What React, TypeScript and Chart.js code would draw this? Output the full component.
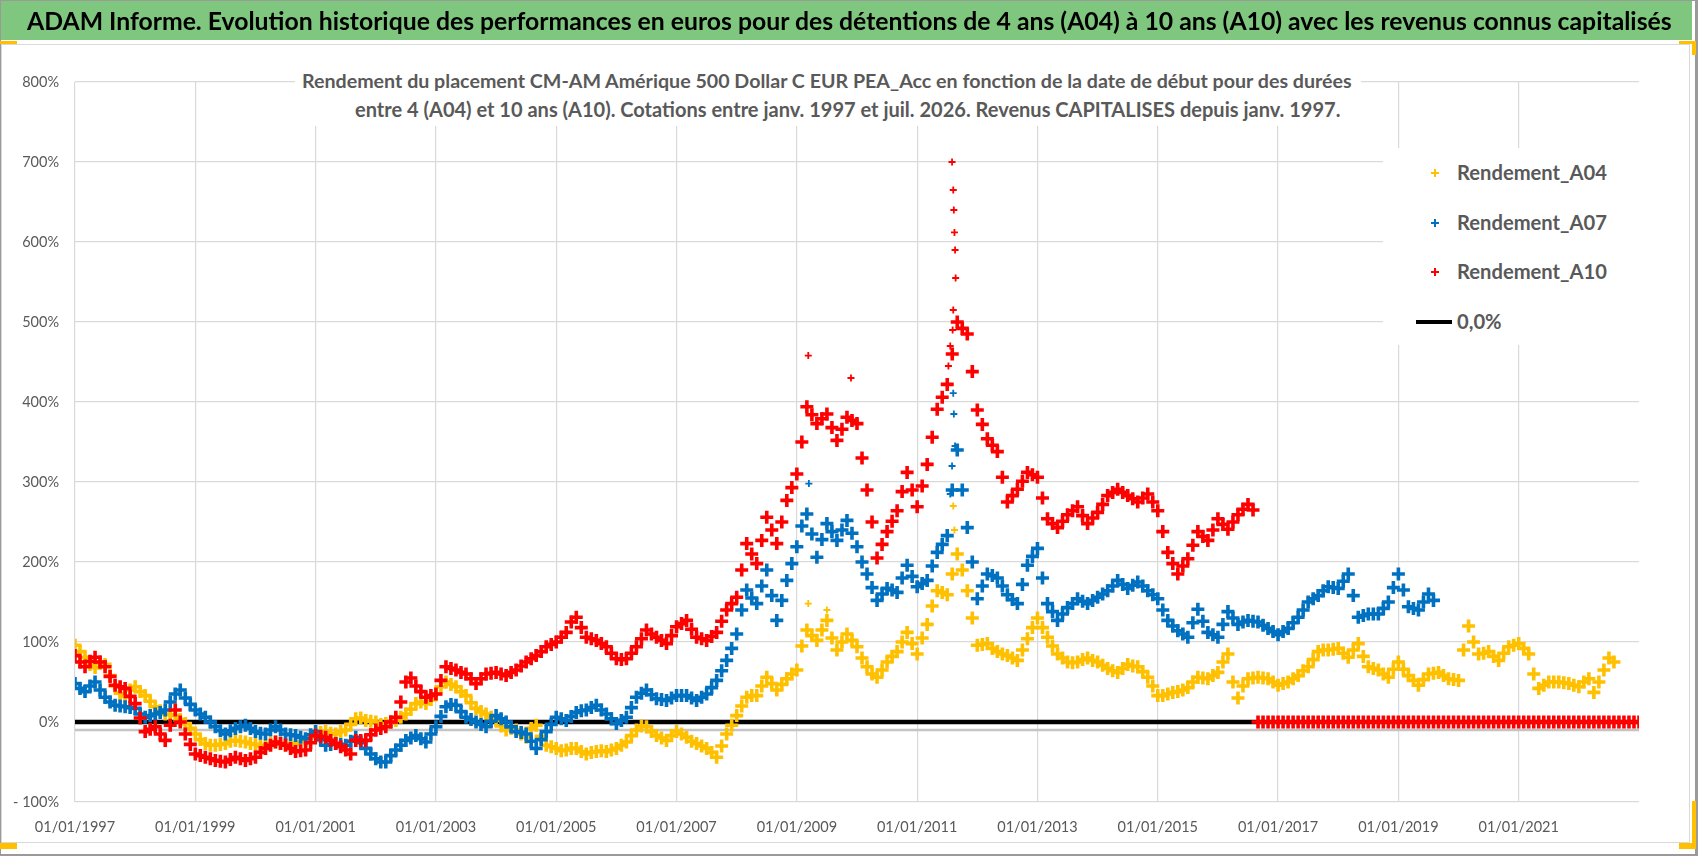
import React, { useEffect, useMemo, useRef } from 'react';
import { Chart, registerables } from 'chart.js';

Chart.register(...registerables);

// ---------- data ----------
const START_YEAR = 1997;
const STEP_YEARS = 1 / 12; // one reading per month
const X_MIN = 1997;
const X_MAX = 2023;
const X_TICK_YEARS = [1997, 1999, 2001, 2003, 2005, 2007, 2009, 2011, 2013, 2015, 2017, 2019, 2021];
const Y_MIN = -100;
const Y_MAX = 800;
const Y_STEP = 100;

const HEADER_TEXT =
  'ADAM Informe. Evolution historique des performances en euros pour des détentions de 4 ans (A04) à 10 ans (A10) avec les revenus connus capitalisés';
const TITLE_LINE_1 =
  'Rendement du placement CM-AM Amérique 500 Dollar C EUR PEA_Acc en fonction de la date de début pour des durées';
const TITLE_LINE_2 =
  'entre 4 (A04) et 10 ans (A10). Cotations entre janv. 1997 et juil. 2026. Revenus CAPITALISES depuis janv. 1997.';
const SERIES_LABELS = ['Rendement_A04', 'Rendement_A07', 'Rendement_A10'];
const ZERO_LABEL = '0,0%';

// Rendement_A04 (%), one value per month from Jan 1997
const A04 = [
  96, 88, 81, 72, 68, 73, 72, 58, 45, 36, 32, 40,
  44, 38, 33, 26, 19, 14, 10, 9, 8, 3, -2, -8,
  -15, -22, -27, -29, -29, -28, -27, -24, -23, -24, -25, -27,
  -28, -30, -29, -27, -25, -27, -28, -27, -27, -25, -23, -19,
  -15, -13, -12, -14, -15, -12, -10, -3, 4, 5, 2, 1,
  0, -3, -2, 0, 2, 6, 10, 16, 23, 25, 23, 28,
  35, 44, 50, 47, 44, 38, 33, 24, 17, 13, 10, 6,
  2, -5, -10, -8, -10, -15, -19, -8, -4, -18, -29, -31,
  -33, -36, -35, -33, -33, -37, -40, -38, -37, -36, -37, -35,
  -33, -29, -25, -17, -10, -5, -6, -12, -17, -20, -23, -17,
  -12, -15, -19, -24, -27, -30, -33, -38, -44, -30, -15, -4,
  8, 20, 31, 33, 33, 45, 56, 48, 40, 47, 54, 60,
  65, 95, 115, 108, 102, 115, 127, 105, 90, 100, 110, 102,
  94, 80, 69, 60, 56, 65, 75, 82, 88, 100, 112, 98,
  85, 105, 122, 145, 164, 162, 159, 185, 210, 190, 164, 130,
  96, 97, 98, 92, 88, 85, 83, 80, 77, 90, 104, 118,
  130, 118, 106, 95, 85, 80, 75, 74, 75, 78, 80, 77,
  75, 71, 67, 64, 62, 67, 72, 70, 69, 63, 56, 45,
  33, 33, 35, 37, 38, 40, 43, 50, 56, 55, 54, 58,
  62, 75, 85, 50, 30, 45, 54, 55, 56, 55, 54, 50,
  46, 48, 50, 54, 58, 64, 69, 78, 88, 90, 90, 91,
  92, 86, 81, 90, 98, 82, 69, 67, 65, 60, 56, 66,
  75, 66, 58, 52, 46, 53, 60, 61, 62, 58, 54, 53,
  52, 90, 120, 100, 85, 86, 88, 82, 77, 86, 94, 96,
  98, 92, 85, 60, 42, 46, 50, 50, 50, 49, 48, 46,
  44, 50, 54, 37, 50, 65, 80, 75,
];
const A04_EXTRA_DATES = [2009.19, 2009.5, 2011.6, 2011.62];
const A04_EXTRA_VALUES = [148, 140, 270, 240];

// Rendement_A07 (%)
const A07 = [
  48, 42, 38, 45, 50, 40, 31, 25, 21, 20, 19, 18,
  17, 10, 6, 8, 10, 12, 15, 25, 35, 40, 30, 22,
  15, 10, 6, 0, -6, -11, -15, -11, -8, -6, -4, -8,
  -12, -14, -15, -10, -6, -10, -15, -16, -17, -19, -21, -16,
  -12, -22, -29, -28, -27, -28, -29, -24, -19, -26, -33, -40,
  -46, -50, -50, -42, -35, -29, -23, -20, -17, -21, -25, -15,
  -6, 7, 19, 22, 21, 13, 6, 3, 0, -3, -6, 1,
  8, 4, 0, -6, -12, -13, -15, -24, -33, -22, -12, -3,
  6, 4, 2, 7, 12, 14, 15, 18, 21, 15, 10, 4,
  -2, 2, 6, 18, 31, 36, 40, 34, 29, 28, 27, 30,
  33, 33, 33, 30, 27, 31, 35, 43, 52, 64, 77, 92,
  110, 140, 165, 155, 148, 170, 190, 158, 127, 152, 177, 198,
  219, 245, 260, 235, 206, 228, 248, 238, 227, 240, 252, 236,
  219, 200, 185, 168, 152, 160, 167, 165, 162, 180, 196, 182,
  169, 173, 177, 195, 212, 222, 233, 290, 340, 290, 243, 200,
  154, 170, 185, 183, 180, 170, 159, 153, 148, 172, 196, 207,
  217, 180, 148, 138, 127, 135, 143, 148, 154, 151, 148, 152,
  156, 160, 164, 170, 177, 172, 167, 171, 175, 170, 164, 159,
  154, 140, 127, 120, 114, 110, 106, 124, 141, 126, 112, 109,
  106, 122, 138, 130, 122, 125, 127, 126, 125, 121, 117, 113,
  109, 113, 117, 124, 131, 140, 150, 154, 158, 164, 169, 168,
  167, 176, 185, 158, 131, 133, 135, 135, 135, 142, 150, 168,
  185, 165, 144, 142, 140, 150, 160, 152,
];
const A07_EXTRA_DATES = [2009.2, 2011.55, 2011.58, 2011.6, 2011.61, 2011.63];
const A07_EXTRA_VALUES = [298, 285, 320, 411, 385, 345];

// Rendement_A10 (%), 0 once the 10-year horizon is no longer available
const A10 = [
  83, 75, 69, 76, 81, 75, 69, 57, 46, 44, 42, 32,
  23, 5, -12, -9, -6, -15, -23, -4, 15, 0, -15, -28,
  -40, -42, -44, -46, -48, -49, -50, -47, -44, -46, -48, -46,
  -44, -38, -33, -29, -25, -27, -29, -33, -37, -36, -35, -26,
  -17, -18, -19, -23, -27, -31, -35, -40, -23, -23, -23, -16,
  -10, -8, -6, 0, 6, 25, 50, 55, 45, 38, 31, 33,
  35, 52, 69, 67, 65, 62, 60, 54, 48, 54, 60, 61,
  62, 60, 58, 62, 65, 70, 75, 79, 83, 88, 94, 97,
  100, 106, 112, 125, 131, 118, 106, 104, 102, 98, 94, 86,
  79, 78, 79, 86, 94, 104, 115, 110, 106, 102, 98, 108,
  119, 123, 127, 116, 106, 104, 102, 107, 112, 126, 140, 148,
  156, 190, 223, 210, 198, 227, 256, 240, 223, 250, 277, 293,
  310, 350, 394, 384, 373, 379, 385, 368, 352, 366, 381, 377,
  373, 330, 290, 250, 205, 222, 238, 251, 264, 288, 312, 290,
  269, 295, 322, 356, 391, 406, 422, 460, 500, 492, 485, 438,
  390, 372, 354, 346, 338, 306, 275, 283, 291, 301, 312, 309,
  306, 280, 254, 248, 243, 251, 259, 264, 269, 258, 248, 255,
  262, 272, 283, 287, 291, 287, 283, 279, 275, 280, 285, 275,
  264, 238, 212, 198, 185, 195, 204, 221, 238, 232, 227, 240,
  254, 247, 241, 250, 259, 266, 272, 265, 0, 0, 0, 0,
  0, 0, 0, 0, 0, 0, 0, 0, 0, 0, 0, 0,
  0, 0, 0, 0, 0, 0, 0, 0, 0, 0, 0, 0,
  0, 0, 0, 0, 0, 0, 0, 0, 0, 0, 0, 0,
  0, 0, 0, 0, 0, 0, 0, 0, 0, 0, 0, 0,
  0, 0, 0, 0, 0, 0, 0, 0, 0, 0, 0, 0,
  0, 0, 0, 0, 0, 0, 0, 0, 0, 0, 0, 0,
  0,
];
const A10_EXTRA_DATES = [2009.19, 2009.9, 2011.52, 2011.55, 2011.58, 2011.59, 2011.6, 2011.61, 2011.62, 2011.63, 2011.64, 2011.6];
const A10_EXTRA_VALUES = [458, 430, 445, 470, 700, 490, 665, 640, 612, 590, 555, 515];

// reference lines
const ZERO_LINE_DATES = [1997, 2023];
const ZERO_LINE_VALUES = [0, 0];
const AXIS_LINE_VALUES = [-10, -10];

// ---------- styles ----------
const COLORS = { a04: '#FFC000', a07: '#0070C0', a10: '#FF0000' };
const FONT = 'Lato, "Open Sans", sans-serif';
const GRAY_TEXT = '#595959';

function toPoints(values: number[], extraDates: number[] = [], extraValues: number[] = []) {
  const pts = values.map((v, i) => ({ x: START_YEAR + i * STEP_YEARS, y: v }));
  extraDates.forEach((d, i) => pts.push({ x: d, y: extraValues[i] }));
  return pts;
}

function fitSize(text: string, weight: string, target: number) {
  const c = document.createElement('canvas').getContext('2d');
  if (!c) return 20;
  c.font = `${weight} 100px ${FONT}`;
  const w = c.measureText(text).width;
  return (100 * target) / w;
}

function Text(props: {
  text: string; left: number; cy: number; size: number; weight: string; color: string;
}) {
  const { text, left, cy, size, weight, color } = props;
  return (
    <div
      style={{
        position: 'absolute', left, top: cy - size * 0.56, fontSize: size, lineHeight: `${size}px`,
        fontFamily: FONT, fontWeight: weight as any, color, whiteSpace: 'nowrap',
      }}
    >
      {text}
    </div>
  );
}

function Cross({ cx, cy, color }: { cx: number; cy: number; color: string }) {
  const s = 4;
  return (
    <>
      <div style={{ position: 'absolute', left: cx - s, top: cy - 0.75, width: 2 * s, height: 1.5, background: color }} />
      <div style={{ position: 'absolute', left: cx - 0.75, top: cy - s, width: 1.5, height: 2 * s, background: color }} />
    </>
  );
}

export default function App() {
  const canvasRef = useRef<HTMLCanvasElement | null>(null);

  const sizes = useMemo(
    () => ({
      header: fitSize(HEADER_TEXT, 'bold', 1646),
      t1: fitSize(TITLE_LINE_1, 'bold', 1052),
      t2: fitSize(TITLE_LINE_2, 'bold', 986),
      legend: fitSize(SERIES_LABELS[0], 'bold', 150),
    }),
    []
  );

  useEffect(() => {
    document.body.style.margin = '0';
    const canvas = canvasRef.current;
    if (!canvas) return;
    const pointDs = (label: string, color: string, regularCount: number, data: any[], order: number) => ({
      type: 'scatter' as const,
      label,
      data,
      order,
      showLine: false,
      pointStyle: 'cross' as const,
      pointRadius: (ctx: any) => (ctx.dataIndex < regularCount ? 6.5 : 3.5),
      pointHoverRadius: (ctx: any) => (ctx.dataIndex < regularCount ? 6.5 : 3.5),
      pointBorderWidth: (ctx: any) => (ctx.dataIndex < regularCount ? 3.6 : 1.8),
      borderColor: color,
      backgroundColor: color,
    });
    const chart = new Chart(canvas, {
      type: 'scatter',
      data: {
        datasets: [
          pointDs(SERIES_LABELS[2], COLORS.a10, A10.length, toPoints(A10, A10_EXTRA_DATES, A10_EXTRA_VALUES), 1),
          pointDs(SERIES_LABELS[1], COLORS.a07, A07.length, toPoints(A07, A07_EXTRA_DATES, A07_EXTRA_VALUES), 2),
          pointDs(SERIES_LABELS[0], COLORS.a04, A04.length, toPoints(A04, A04_EXTRA_DATES, A04_EXTRA_VALUES), 3),
          {
            type: 'line' as const,
            label: ZERO_LABEL,
            data: ZERO_LINE_DATES.map((d, i) => ({ x: d, y: ZERO_LINE_VALUES[i] })),
            order: 4,
            borderColor: '#000000',
            borderWidth: 4.5,
            pointRadius: 0,
            showLine: true,
          },
          {
            type: 'line' as const,
            label: '',
            data: ZERO_LINE_DATES.map((d, i) => ({ x: d, y: AXIS_LINE_VALUES[i] })),
            order: 5,
            borderColor: '#c4c4c4',
            borderWidth: 2.5,
            pointRadius: 0,
            showLine: true,
          },
        ] as any,
      },
      options: {
        animation: false,
        responsive: false,
        maintainAspectRatio: false,
        layout: { padding: { left: 0, right: 59, top: 82, bottom: 0 } },
        plugins: { legend: { display: false }, tooltip: { enabled: false }, title: { display: false } },
        scales: {
          x: {
            type: 'linear',
            min: X_MIN,
            max: X_MAX,
            afterBuildTicks: (s: any) => {
              s.ticks = X_TICK_YEARS.map((v) => ({ value: v }));
            },
            afterFit: (s: any) => {
              s.height = 54;
            },
            ticks: {
              callback: (v: any) => '01/01/' + v,
              color: GRAY_TEXT,
              font: { family: FONT, size: 14.5 },
              padding: 17,
              maxRotation: 0,
              autoSkip: false,
            },
            grid: { color: '#d9d9d9', lineWidth: 1.2, drawTicks: false },
            border: { display: false },
          },
          y: {
            type: 'linear',
            min: Y_MIN,
            max: Y_MAX,
            afterFit: (s: any) => {
              s.width = 75;
            },
            ticks: {
              stepSize: Y_STEP,
              callback: (v: any) => (v < 0 ? '- ' + Math.abs(v) + '%' : v + '%'),
              color: GRAY_TEXT,
              font: { family: FONT, size: 14.5 },
              padding: 16,
            },
            grid: { color: '#d9d9d9', lineWidth: 1.2, drawTicks: false },
            border: { display: false },
          },
        },
      },
    });
    return () => chart.destroy();
  }, []);

  const orange = '#FFC000';
  const legendRows = [173, 223, 272, 322];

  return (
    <div style={{ position: 'fixed', left: 0, top: 0, width: 1698, height: 856, background: '#fff', overflow: 'hidden' }}>
      {/* outer frame */}
      <div style={{ position: 'absolute', left: 0, top: 0, width: 1698, height: 856, boxSizing: 'border-box', borderStyle: 'solid', borderColor: '#9a9a9a', borderWidth: '1px 3px 2px 1px' }} />
      {/* green header */}
      <div style={{ position: 'absolute', left: 1, top: 1, width: 1691, height: 39, background: '#7fc67e' }} />
      {/* chart box */}
      <div style={{ position: 'absolute', left: 1, top: 44, width: 1689, height: 799, boxSizing: 'border-box', border: '1px solid #d9d9d9' }} />
      <canvas ref={canvasRef} width={1698} height={856} style={{ position: 'absolute', left: 0, top: 0, width: 1698, height: 856 }} />
      <Text text={HEADER_TEXT} left={27} cy={22.5} size={sizes.header} weight="bold" color="#000" />
      {/* chart title on white box */}
      <div style={{ position: 'absolute', left: 295, top: 48, width: 1066, height: 78, background: '#fff' }} />
      <Text text={TITLE_LINE_1} left={302} cy={81.7} size={sizes.t1} weight="bold" color={GRAY_TEXT} />
      <Text text={TITLE_LINE_2} left={355} cy={110} size={sizes.t2} weight="bold" color={GRAY_TEXT} />
      {/* legend */}
      <div style={{ position: 'absolute', left: 1383, top: 148, width: 300, height: 197, background: '#fff' }} />
      <Cross cx={1435} cy={legendRows[0]} color={COLORS.a04} />
      <Cross cx={1435} cy={legendRows[1]} color={COLORS.a07} />
      <Cross cx={1435} cy={legendRows[2]} color={COLORS.a10} />
      <div style={{ position: 'absolute', left: 1416, top: legendRows[3] - 2, width: 36, height: 4, background: '#000' }} />
      <Text text={SERIES_LABELS[0]} left={1457} cy={legendRows[0]} size={sizes.legend} weight="bold" color={GRAY_TEXT} />
      <Text text={SERIES_LABELS[1]} left={1457} cy={legendRows[1]} size={sizes.legend} weight="bold" color={GRAY_TEXT} />
      <Text text={SERIES_LABELS[2]} left={1457} cy={legendRows[2]} size={sizes.legend} weight="bold" color={GRAY_TEXT} />
      <Text text={ZERO_LABEL} left={1457} cy={legendRows[3]} size={sizes.legend} weight="bold" color={GRAY_TEXT} />
      {/* corner handles */}
      <div style={{ position: 'absolute', left: 0, top: 41, width: 17, height: 3, background: orange }} />
      <div style={{ position: 'absolute', left: 1679, top: 41, width: 17, height: 3, background: orange }} />
      <div style={{ position: 'absolute', left: 1692, top: 41, width: 4, height: 14, background: orange }} />
      <div style={{ position: 'absolute', left: 1692, top: 801, width: 4, height: 48, background: orange }} />
      <div style={{ position: 'absolute', left: 1679, top: 843, width: 17, height: 6, background: orange }} />
      <div style={{ position: 'absolute', left: 0, top: 843, width: 17, height: 6, background: orange }} />
    </div>
  );
}
